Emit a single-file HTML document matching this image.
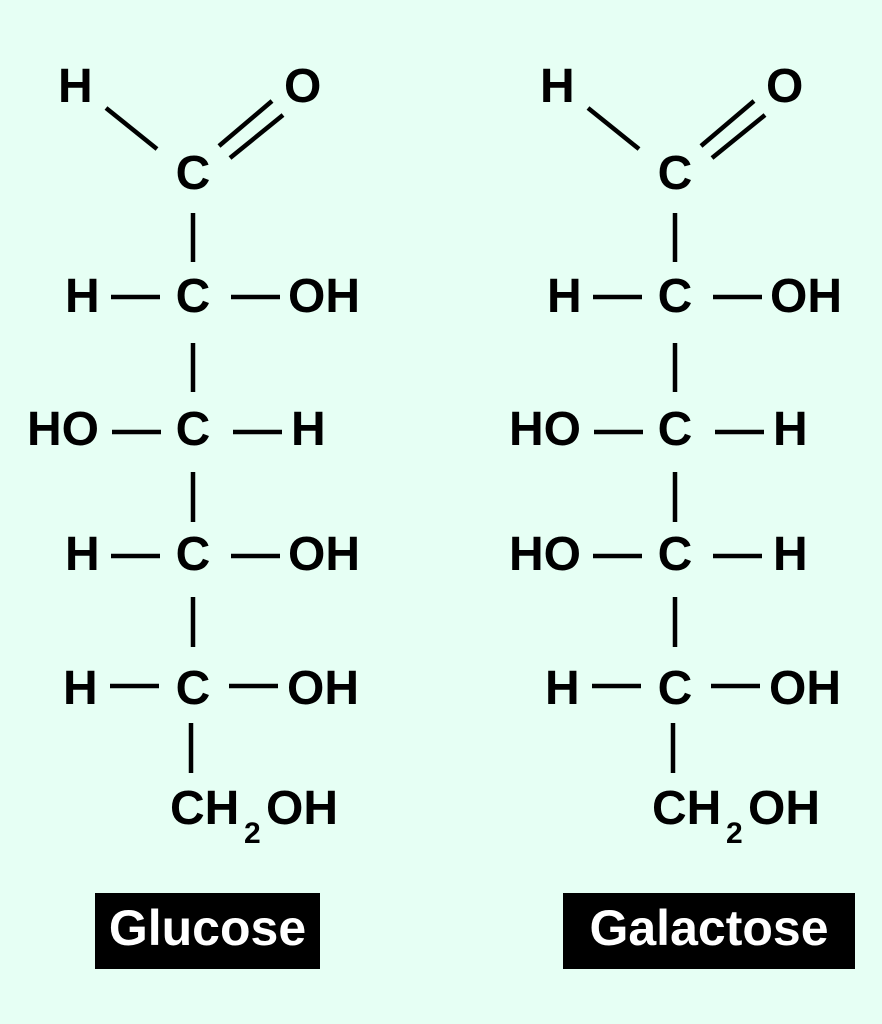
<!DOCTYPE html>
<html><head><meta charset="utf-8"><style>
html,body{margin:0;padding:0;background:#e6fff4;}
svg{display:block}
text{font-family:"Liberation Sans",sans-serif;font-weight:bold;fill:#000}
</style></head><body>
<svg width="882" height="1024" viewBox="0 0 882 1024">
<rect width="882" height="1024" fill="#e6fff4"/>
<defs>
<g id="mol" stroke="#000" stroke-width="4.5">
<line x1="106" y1="108" x2="157" y2="149"/>
<line x1="219" y1="146" x2="272" y2="101"/>
<line x1="230" y1="158" x2="283" y2="115"/>
<line x1="193" y1="213" x2="193" y2="262"/>
<line x1="193" y1="343" x2="193" y2="392"/>
<line x1="193" y1="472" x2="193" y2="522"/>
<line x1="193" y1="597" x2="193" y2="647"/>
<line x1="191" y1="723" x2="191" y2="773"/>
<line x1="111" y1="297" x2="160" y2="297"/>
<line x1="231" y1="297" x2="280" y2="297"/>
<line x1="112" y1="432" x2="161" y2="432"/>
<line x1="233" y1="432" x2="282" y2="432"/>
<line x1="111" y1="556" x2="160" y2="556"/>
<line x1="231" y1="556" x2="280" y2="556"/>
<line x1="110" y1="686" x2="159" y2="686"/>
<line x1="229" y1="686" x2="278" y2="686"/>
</g>
</defs>
<g font-size="48">
<use href="#mol"/>
<text x="58" y="102">H</text>
<text x="284" y="102">O</text>
<text x="193" y="189" text-anchor="middle">C</text>
<text x="65" y="312">H</text><text x="193" y="312" text-anchor="middle">C</text><text x="288" y="312">OH</text>
<text x="27" y="445">HO</text><text x="193" y="445" text-anchor="middle">C</text><text x="291" y="445">H</text>
<text x="65" y="570">H</text><text x="193" y="570" text-anchor="middle">C</text><text x="288" y="570">OH</text>
<text x="63" y="704">H</text><text x="193" y="704" text-anchor="middle">C</text><text x="287" y="704">OH</text>
<text x="170" y="824">CH</text><text x="244" y="843" font-size="30" font-weight="normal">2</text><text x="266" y="824">OH</text>
</g>
<g font-size="48" transform="translate(482,0)">
<use href="#mol"/>
<text x="58" y="102">H</text>
<text x="284" y="102">O</text>
<text x="193" y="189" text-anchor="middle">C</text>
<text x="65" y="312">H</text><text x="193" y="312" text-anchor="middle">C</text><text x="288" y="312">OH</text>
<text x="27" y="445">HO</text><text x="193" y="445" text-anchor="middle">C</text><text x="291" y="445">H</text>
<text x="27" y="570">HO</text><text x="193" y="570" text-anchor="middle">C</text><text x="291" y="570">H</text>
<text x="63" y="704">H</text><text x="193" y="704" text-anchor="middle">C</text><text x="287" y="704">OH</text>
<text x="170" y="824">CH</text><text x="244" y="843" font-size="30" font-weight="normal">2</text><text x="266" y="824">OH</text>
</g>
<rect x="95" y="893" width="225" height="76" fill="#000"/>
<rect x="563" y="893" width="292" height="76" fill="#000"/>
<text x="207.5" y="945" text-anchor="middle" font-size="50" style="fill:#fff">Glucose</text>
<text x="709" y="945" text-anchor="middle" font-size="50" style="fill:#fff">Galactose</text>
</svg>
</body></html>
